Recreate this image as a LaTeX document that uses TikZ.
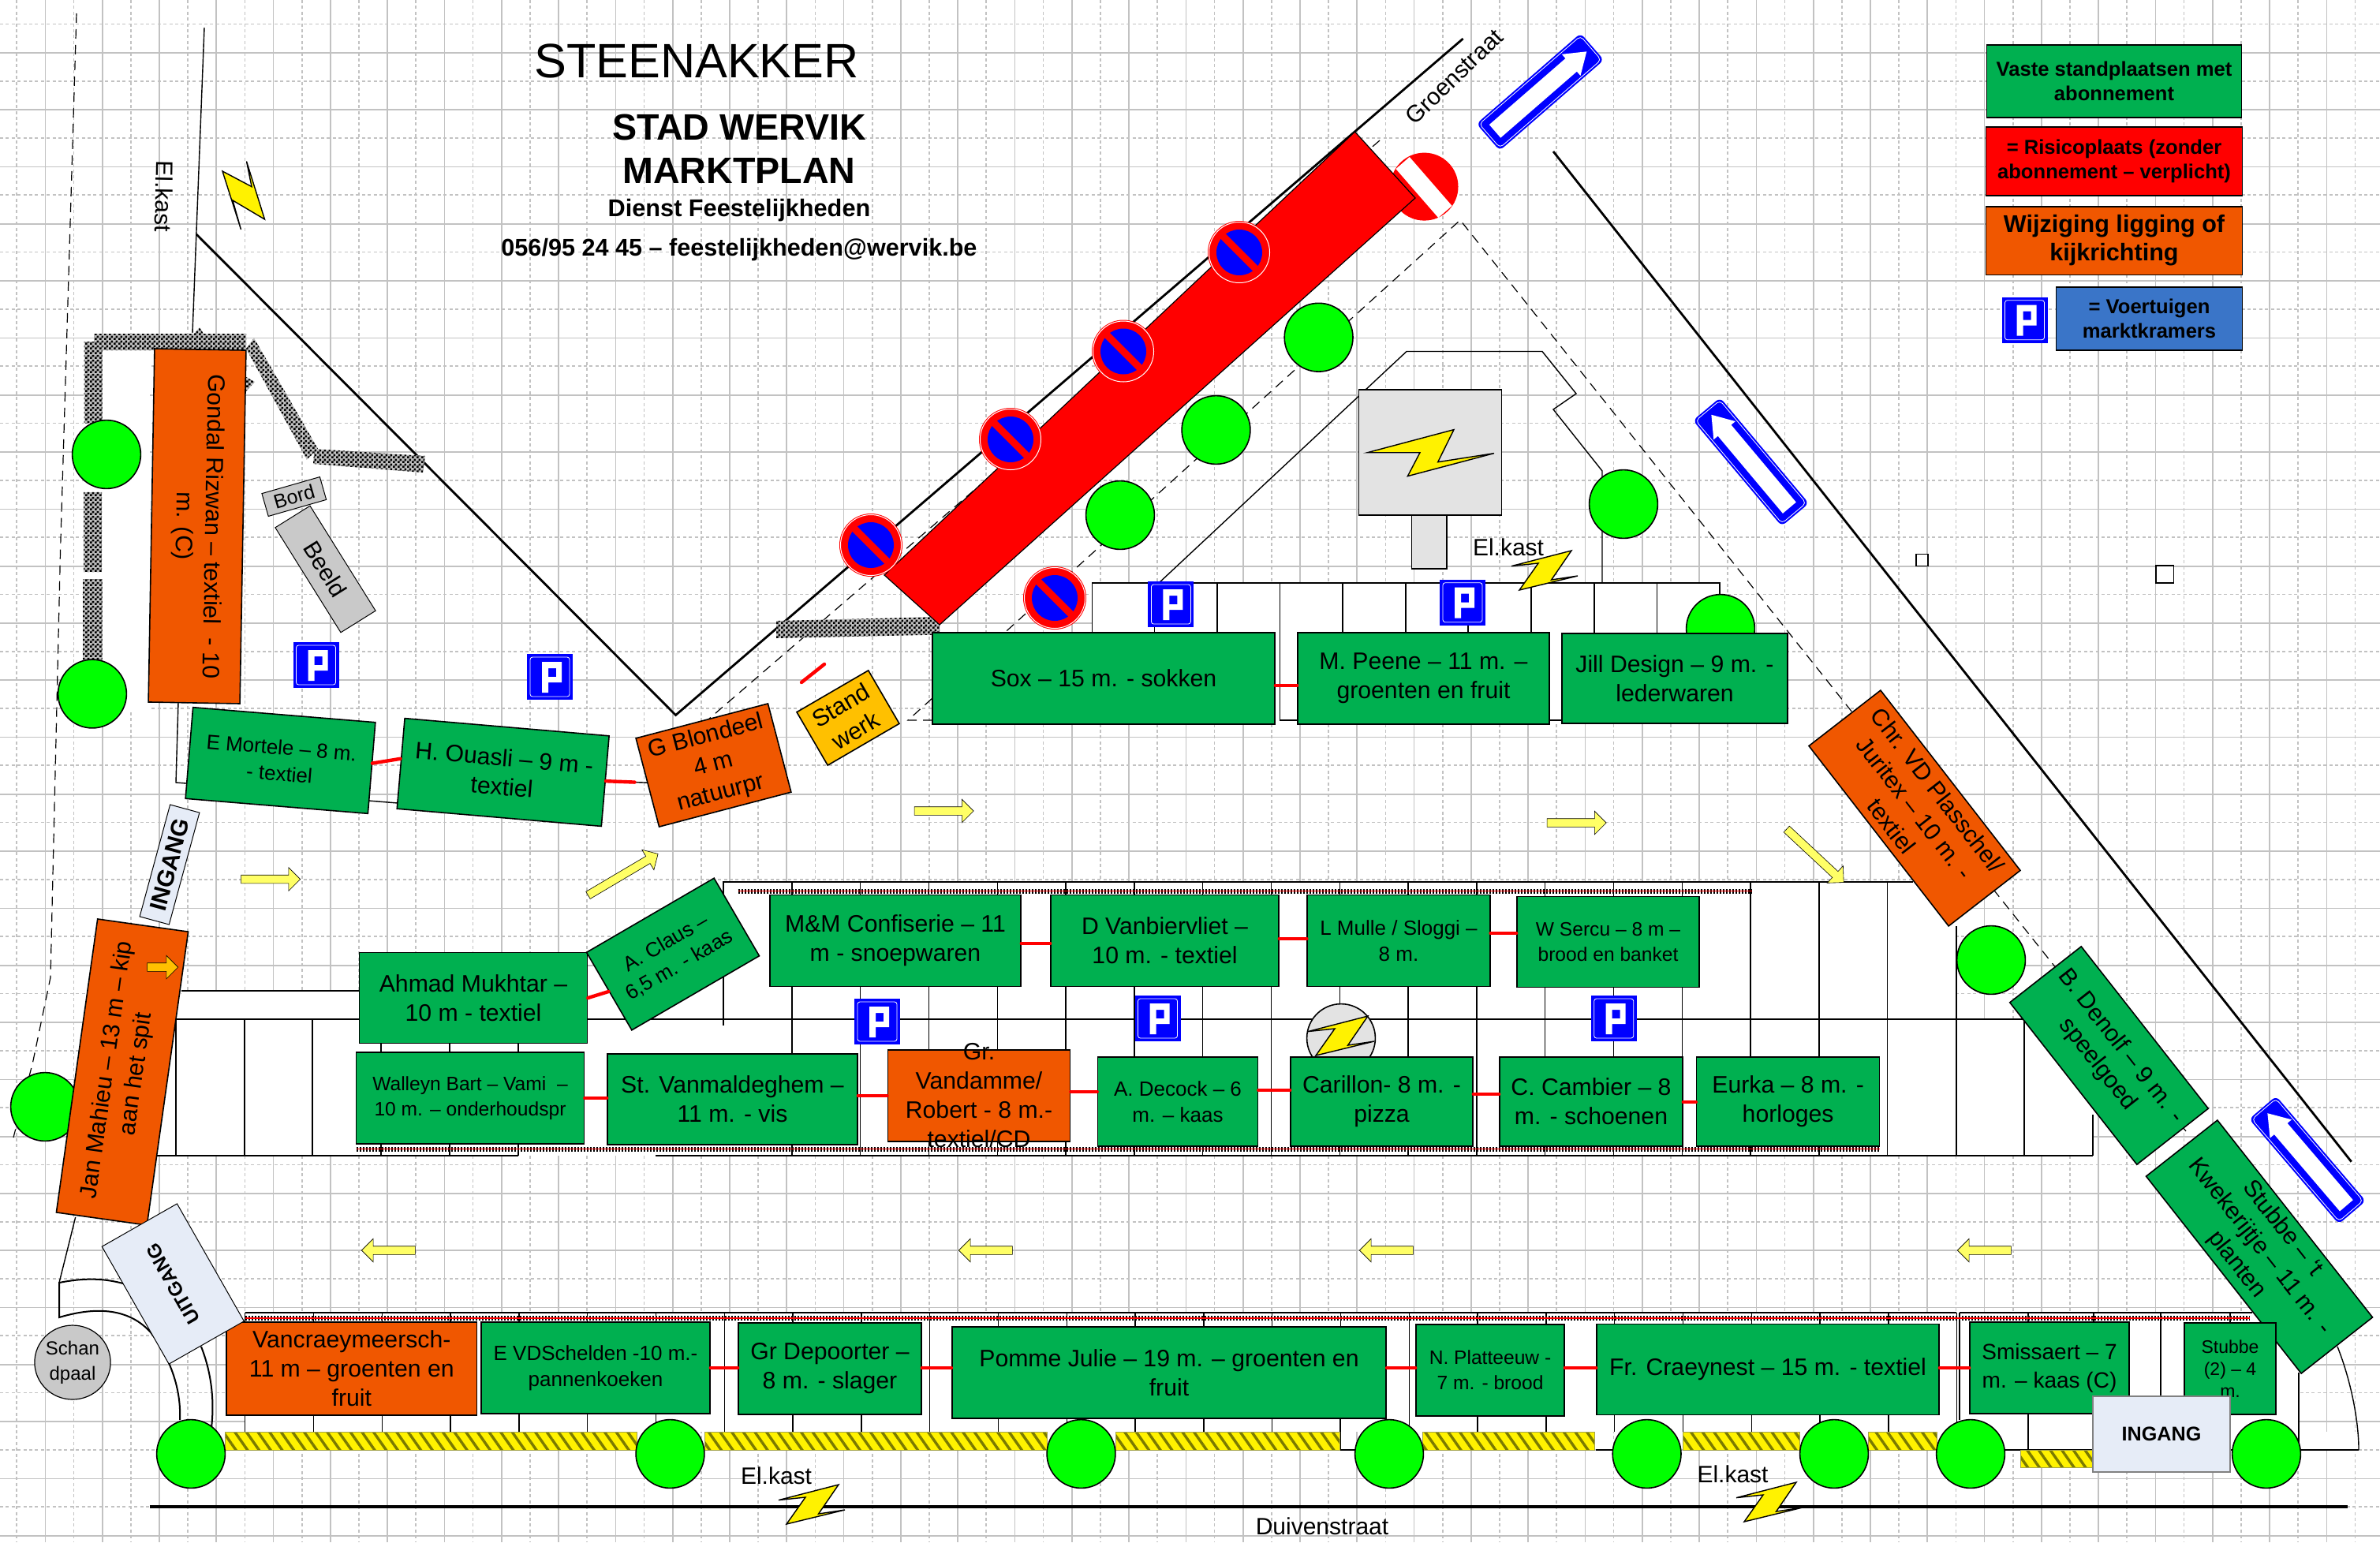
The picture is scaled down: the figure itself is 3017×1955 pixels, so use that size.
\documentclass[tikz,border=0pt]{standalone}
\usepackage{fontspec}
\setmainfont{Liberation Sans}
\usetikzlibrary{shapes,shapes.arrows,patterns,patterns.meta,calc}
\definecolor{marktgroen}{HTML}{00B050}
\definecolor{wijziging}{HTML}{F05700}
\definecolor{boomgroen}{HTML}{00FF00}
\definecolor{rooster}{HTML}{C2C2C2}
\definecolor{pijlgeel}{HTML}{FFFF66}
\definecolor{amber}{HTML}{FFC000}
\definecolor{ingang}{HTML}{E6ECF7}
\definecolor{voertuig}{HTML}{3A75C8}
\definecolor{kastgrijs}{HTML}{E3E3E3}
\definecolor{bordgrijs}{HTML}{C9C9C9}
\definecolor{streep}{HTML}{7A7A00}
\pgfdeclarepatternformonly{fijnruit}{\pgfpointorigin}{\pgfqpoint{3pt}{3pt}}{\pgfqpoint{3pt}{3pt}}{
    \pgfpathrectangle{\pgfpointorigin}{\pgfqpoint{1.5pt}{1.5pt}}
    \pgfpathrectangle{\pgfqpoint{1.5pt}{1.5pt}}{\pgfqpoint{1.5pt}{1.5pt}}
    \pgfusepath{fill}
}
\tikzset{
    psign/.pic={
        \fill[blue] (-29,-29) rectangle (29,29);
        \draw[white, line width=.4pt, rounded corners=1.5pt] (-25,-25) rectangle (25,25);
        \fill[white, even odd rule] (-10,-19) -- (15,-19) -- (15,7) -- (-2,7) -- (-2,20) -- (-10,20) -- cycle (-2,-11) rectangle (8,0);
    },
    verbod/.pic={
        \fill[red] (0,0) circle [radius=40];
        \draw[white, line width=.5pt] (0,0) circle [radius=38.5];
        \fill[blue] (0,0) circle [radius=29];
        \draw[red, line width=4.5pt] (-23,-23) -- (23,23);
    },
    eenrichting/.pic={
        \draw[blue, fill=blue, line width=.5pt, rounded corners=3pt] (-87,-22) rectangle (87,22);
        \draw[white, line width=.4pt, rounded corners=2.5pt] (-85,-20) rectangle (85,20);
        \fill[white] (-76,-11) -- (52,-11) -- (52,-18) -- (78,0) -- (52,18) -- (52,11) -- (-76,11) -- cycle;
    },
    bolt/.pic={
        \draw[fill=yellow, line width=.7pt] (-42,-5.4) -- (34,-25) -- (8.6,12) -- (42,7) -- (-32,25) -- (-8,-9) -- cycle;
    }
}
\begin{document}
\begin{tikzpicture}[x=.5pt, y=-.5pt,
    stall/.style 2 args={draw, fill=marktgroen, line width=.8pt, minimum width=#1*.5pt, minimum height=#2*.5pt, inner sep=0pt, align=center, font=\fontsize{15.1}{18.5}\selectfont},
    oranje/.style 2 args={stall={#1}{#2}, fill=wijziging},
    legende/.style={font=\bfseries\fontsize{12.8}{15.6}\selectfont},
    klein/.style={font=\fontsize{13}{16.5}\selectfont},
    kleiner/.style={font=\fontsize{12.3}{16}\selectfont},
    label/.style={inner sep=0pt, align=center, font=\fontsize{15}{18.5}\selectfont},
    boom/.style={circle, draw, fill=boomgroen, line width=.8pt, minimum size=43.4pt, inner sep=0pt},
    pijl/.style={single arrow, draw, fill=pijlgeel, line width=.3pt, minimum height=#1*.5pt, minimum width=14.5pt, single arrow head extend=4.75pt, inner sep=2.5pt},
    koppel/.style={red, line width=2.2pt, line cap=round},
    muur/.style={preaction={fill=gray!50}, pattern=fijnruit, pattern color=black},
    band/.style={preaction={fill=yellow}, pattern={Lines[angle=-55,distance=6pt,line width=1.7pt]}, pattern color=streep, draw=streep!70, line width=.3pt},
    rij/.style={red, line width=.9pt, preaction={draw=black, line width=3pt, dash pattern=on 1.2pt off .8pt}},
    dun/.style={line width=.7pt},
    dik/.style={line width=1.4pt},
    gestreept/.style={line width=.6pt, dash pattern=on 6pt off 4pt}
]
    \useasboundingbox (0,0) rectangle (3017,1955);
    \fill[white] (0,0) rectangle (3017,1955);
    \foreach \k in {0,...,41} {
        \draw[rooster, line width=.85pt] ({57.4+72.3*\k},0) -- ({57.4+72.3*\k},1955);
        \draw[rooster, line width=.85pt, dash pattern=on 2pt off 1.7pt] ({21.2+72.3*\k},0) -- ({21.2+72.3*\k},1955);
    }
    \foreach \k in {0,...,26} {
        \draw[rooster, line width=.85pt] (0,{67+72.3*\k}) -- (3017,{67+72.3*\k});
        \draw[rooster, line width=.85pt, dash pattern=on 2pt off 1.7pt] (0,{30.4+72.3*\k}) -- (3017,{30.4+72.3*\k});
    }

    % witte vlakken
    \fill[white] (106,440) rectangle (190,900);
    \fill[white] (1384.6,739) rectangle (2180,913);
    \fill[white] (917,1118) rectangle (2480,1465);
    \fill[white] (199,1292) rectangle (2653,1465);
    \fill[white] (230,1256) rectangle (917,1292);
    \fill[white] (310.6,1664) rectangle (2914,1815);
    \fill[white] (2541,1815) rectangle (2990,1838);

    % plaatsen bovenaan
    \draw[dun] (1384.6,802) -- (1384.6,739) -- (2180,739) -- (2180,760);
    \foreach \x in {1463.6,1543,1622.5,1702,1782,1861,1941,2020.8,2100.5} \draw[dun] (\x,739) -- (\x,802);
    \draw[dun] (1622.5,802) -- (1622.5,913) -- (1645,913);
    \draw[dun] (1964,913) -- (1980,913);

    % plaatsen midden
    \draw[dun] (917,1300) -- (917,1118) -- (2425,1118);
    \foreach \k in {1,...,17} \draw[dun] ({917+86.8*\k},1118) -- ({917+86.8*\k},1465);
    \draw[dun] (2480,1174) -- (2480,1465);
    \draw[dun] (2566,1291) -- (2566,1465);
    \draw[dun] (2653,1413) -- (2653,1465);
    \foreach \x in {223,310,396,483,570,657} \draw[dun] (\x,1292) -- (\x,1465);
    \draw[dun] (223,1292) -- (2566,1292);
    \draw[dun] (230,1256) -- (455,1256);
    \draw[line width=.9pt] (199,1465) -- (657,1465) (831,1465) -- (2653,1465);

    % plaatsen onderaan
    \draw[dun] (310.6,1664) -- (2480,1664) (2484,1664) -- (2855,1664);
    \foreach \k in {0,...,25} \draw[dun] ({310.6+86.8*\k},1664) -- ({310.6+86.8*\k},1815);
    \foreach \x in {2571,2654,2739,2827} \draw[dun] (\x,1664) -- (\x,1838);
    \draw[dun] (2484,1664) -- (2484,1800);
    \draw[dun] (2914,1740) -- (2914,1838);
    \draw[dun] (1699,1797) -- (1699,1838) -- (1761,1838);
    \draw[dun] (2023,1838) -- (2087,1838);
    \draw[dun] (2541,1838) -- (2653,1838);
    \draw[dun] (2827,1838) -- (2990,1838);
    \draw[dun] (2963,1707) .. controls (2980,1750) and (2990,1800) .. (2990,1838);

    % straten en lijnen
    \draw[dun] (259,35) -- (244,422);
    \draw[dik] (249,297) -- (856.5,906.5) -- (1854.6,49);
    \draw[dik] (1969,192) -- (2980.7,1472.7);
    \draw[line width=1.7pt] (190,1910) -- (2976,1910);
    \draw[gestreept] (97,17) -- (76.5,700) -- (64,1239) -- (41.5,1347) -- (17,1442);
    \draw[gestreept] (1749,178) -- (899,911);
    \draw[gestreept] (1182,913) -- (1151,913) -- (1851,279) -- (2775,1439);
    \draw[dun] (1469,739) -- (1783,445.5) -- (1955,445.5) -- (1998,499) -- (1969,519) -- (2031,597) -- (2031,739);
    \draw[dun] (226,890) -- (223,992) -- (236,993);
    \draw[dun] (467,1015) -- (504,1018);

    % boordstenen
    \draw[dun] (95.7,1543) -- (75,1626);
    \draw[line width=1pt] (156,1627) .. controls (130,1620) and (105,1620) .. (75,1626) -- (75,1670) .. controls (125,1655) and (165,1660) .. (191,1689) .. controls (215,1720) and (230,1760) .. (228,1800);
    \draw[line width=1pt] (255,1707) .. controls (268,1740) and (272,1775) .. (268,1810);

    % muren
    \fill[muur] (119,423) -- (246,423) -- (253,415) -- (258,423) -- (312,423) -- (312,444) -- (119,444) -- cycle;
    \fill[muur] (106.5,433) rectangle (129.5,536);
    \fill[muur] (106,623.6) rectangle (129,725);
    \fill[muur] (105,734) rectangle (129.5,836);
    \fill[muur] (312,442) -- (322,428.6) -- (403,569) -- (389,582.6) -- cycle;
    \fill[muur] (312,478) -- (323,484) -- (312,496) -- cycle;
    \fill[muur] (398.6,569) -- (539,578) -- (536,599) -- (397,588) -- cycle;
    \fill[muur] (984,787) -- (1191,782) -- (1191,804.5) -- (984,809) -- cycle;

    % gele stroken
    \path[band] (285,1815) rectangle (807,1838);
    \path[band] (893,1815) rectangle (1327,1838);
    \path[band] (1414,1815) rectangle (1698,1838);
    \path[band] (1803.6,1815) rectangle (2021.4,1838);
    \path[band] (2133,1815) rectangle (2281.5,1838);
    \path[band] (2368.4,1815) rectangle (2455,1838);
    \path[band] (2561,1838) rectangle (2653,1860);

    % bomen
    \foreach \x/\y [count=\i] in {135/576, 117/879.5, 57/1403, 242/1843, 849.5/1843, 1370.5/1843, 1761/1843, 2087.6/1843, 2325/1843, 2498/1843, 2873/1843, 1671.6/427.7, 1541.5/545, 1420/653, 2058/639, 2181/797, 2524/1217}
        \node[boom] (boom\i) at (\x,\y) {};

    % rode strook en borden
    \fill[red] (1805.5,236.6) circle [radius=43];
    \fill[white, rotate around={-49:(1805,237.5)}] (1764,226) rectangle (1846,249);
    \draw[fill=red, line width=.6pt] (1717.5,167) -- (1794,251) -- (1191,792) -- (1121,729) -- cycle;
    \foreach \x/\y in {1571/320, 1424/445.5, 1281/557, 1104/691, 1337/758}
        \pic at (\x,\y) {verbod};
    \pic[rotate=41] at (1952.4,116.5) {eenrichting};
    \pic[rotate=130] at (2219.5,585.5) {eenrichting};
    \pic[rotate=130.5] at (2925,1470.5) {eenrichting};

    % elektriciteitskast
    \draw[fill=kastgrijs, line width=.8pt] (1789.5,653) rectangle (1834,720.7);
    \node[draw, fill=kastgrijs, line width=.8pt, minimum width=90.5pt, minimum height=79.5pt] (kast) at (1813,573.5) {};
    \draw[fill=yellow, line width=.7pt] (1733.4,573.7) -- (1843,544.6) -- (1822.7,585.7) -- (1894,574.6) -- (1784.4,603.6) -- (1800,573.7) -- cycle;
    \node[draw, ellipse, fill=kastgrijs, line width=.8pt, minimum width=43.4pt, minimum height=43.4pt, inner sep=0pt] (ovaal) at (1700,1316) {};
    \pic at (1700,1313) {bolt};
    \draw[fill=yellow, line width=.7pt] (312.5,204.5) -- (335.5,278) -- (295,254) -- (305.5,291) -- (282,217) -- (319,236.6) -- cycle;
    \pic at (1958,723) {bolt};
    \pic at (1029,1907) {bolt};
    \pic at (2243,1904) {bolt};

    \draw[dun, fill=white] (2429,702.5) rectangle (2444,717.4);
    \draw[dun, fill=white] (2733,717) rectangle (2755.6,739);

    % parking
    \foreach \x/\y in {400.5/843, 697/858, 1484.4/766, 1854/763.7, 1112/1295, 1467.5/1291, 2045.7/1291}
        \pic at (\x,\y) {psign};

    % rode en zwarte rijen
    \draw[rij] (935.6,1129.5) -- (2220.5,1129.5);
    \draw[rij] (451.5,1456.5) -- (2382.7,1456.5);
    \draw[rij] (310.6,1671) -- (2851.6,1671);

    % standplaatsen
    \node[oranje={448}{116}, rotate=-91] (gondal) at (250,667) {Gondal Rizwan – textiel \ - 10\\m. (C)};
    \node[stall={232}{116}, rotate=-4.7, klein] (mortele) at (355.5,964) {E Mortele – 8 m.\\- textiel};
    \node[stall={260}{115}, rotate=-4.9] (ouasli) at (637.7,979) {H. Ouasli – 9 m -\\textiel};
    \node[oranje={173}{116}, rotate=14.7] (blondeel) at (904.5,970) {G Blondeel\\4 m\\natuurpr};
    \node[stall={105}{78}, fill=amber, rotate=30.2] (standwerk) at (1075,910) {Stand\\werk};
    \node[stall={434}{116}] (sox) at (1399,860) {Sox – 15 m. - sokken};
    \node[stall={319}{116}] (peene) at (1804.5,860) {M. Peene – 11 m. –\\groenten en fruit};
    \node[stall={286}{114}] (jill) at (2123,860) {Jill Design – 9 m. -\\lederwaren};
    \node[oranje={289}{115}, rotate=-52.2] (plasschel) at (2427,1024.5) {Chr. VD Plasschel/\\Juritex – 10 m. -\\textiel};
    \node[stall={261}{115}, rotate=-51.9] (denolf) at (2673.5,1338) {B. Denolf – 9 m. -\\speelgoed};
    \node[stall={318}{115}, rotate=-51.8] (kwekerij) at (2864,1580.5) {Stubbe – ‘t\\Kwekerijtje – 11 m. -\\planten};

    \node[stall={289}{115}] (ahmad) at (600,1265) {Ahmad Mukhtar –\\10 m - textiel};
    \node[stall={187}{114}, rotate=30.2, klein] (claus) at (853,1209.5) {A. Claus –\\6,5 m. - kaas};
    \node[stall={318}{116}] (confiserie) at (1135,1192.5) {M\&M Confiserie – 11\\m - snoepwaren};
    \node[stall={289}{116}] (vanbiervliet) at (1476.5,1192.5) {D Vanbiervliet –\\10 m. - textiel};
    \node[stall={231.5}{116}, klein] (mulle) at (1773,1192.5) {L Mulle / Sloggi –\\8 m.};
    \node[stall={231}{115}, kleiner] (sercu) at (2038.5,1194) {W Sercu – 8 m –\\brood en banket};

    \node[stall={289}{116}, kleiner] (walleyn) at (596,1392) {Walleyn Bart – Vami \ –\\10 m. – onderhoudspr};
    \node[stall={317}{115}] (vanmaldeghem) at (928.5,1393.5) {St. Vanmaldeghem –\\11 m. - vis};
    \node[oranje={231}{116}] (vandamme) at (1241,1389) {};
    \node[label, font=\fontsize{15.1}{18.5}\selectfont] (vandammetekst) at (vandamme) {Gr.\\Vandamme/\\Robert - 8 m.-\\textiel/CD};
    \node[stall={203}{113}, klein] (decock) at (1493,1396.5) {A. Decock – 6\\m. – kaas};
    \node[stall={231}{113}] (carillon) at (1751.5,1396.5) {Carillon- 8 m. -\\pizza};
    \node[stall={232}{113}] (cambier) at (2017,1396.5) {C. Cambier – 8\\m. - schoenen};
    \node[stall={232}{113}] (eurka) at (2266.6,1396.5) {Eurka – 8 m. -\\horloges};

    \node[oranje={317.6}{118}] (vancraey) at (445.8,1735) {Vancraeymeersch-\\11 m – groenten en\\fruit};
    \node[stall={290}{116}, klein] (schelden) at (755,1734) {E VDSchelden -10 m.-\\pannenkoeken};
    \node[stall={232}{116}] (depoorter) at (1052,1735) {Gr Depoorter –\\8 m. - slager};
    \node[stall={550.4}{115.5}] (pomme) at (1482,1740) {Pomme Julie – 19 m. – groenten en\\fruit};
    \node[stall={188}{116}, kleiner] (platteeuw) at (1889,1737) {N. Platteeuw -\\7 m. - brood};
    \node[stall={434}{115}] (craeynest) at (2241,1736) {Fr. Craeynest – 15 m. - textiel};
    \node[stall={202}{116}, font=\fontsize{14}{18}\selectfont] (smissaert) at (2598,1734) {Smissaert – 7\\m. – kaas (C)};
    \node[stall={116}{116}, font=\fontsize{11.5}{14}\selectfont] (stubbe) at (2827,1735) {Stubbe\\(2) – 4\\m.};

    \node[oranje={375.6}{116}, rotate=82] (mahieu) at (155,1359) {Jan Mahieu – 13 m – kip\\aan het spit};

    % koppelingen
    \foreach \a/\b/\y in {sox/peene/869, confiserie/vanbiervliet/1196, vanbiervliet/mulle/1190, mulle/sercu/1183, walleyn/vanmaldeghem/1392, vanmaldeghem/vandamme/1389, vandamme/decock/1384, decock/carillon/1382, carillon/cambier/1387, cambier/eurka/1397, schelden/depoorter/1734, depoorter/pomme/1734, pomme/platteeuw/1734, platteeuw/craeynest/1734, craeynest/smissaert/1734}
        \draw[koppel] (\a.east |- 0,\y) -- (\b.west |- 0,\y);
    \draw[koppel] ([yshift=3pt]mortele.east) -- ([yshift=3pt]ouasli.west);
    \draw[koppel] (ahmad.east) -- (claus.west);
    \draw[dun] (ouasli.east) -- (blondeel.west);
    \draw[koppel] (ouasli.east) -- ($(ouasli.east)!.7!(blondeel.west)$);
    \coordinate (streepa) at (1016,865);
    \coordinate (streepb) at (1045,842);
    \draw[koppel] (streepa) -- (streepb);

    % ingangen en borden
    \node[draw, fill=ingang, line width=.5pt, minimum width=73.5pt, minimum height=19.3pt, inner sep=0pt, rotate=74.8, font=\bfseries\fontsize{15}{18}\selectfont] (ingangb) at (215,1096) {INGANG};
    \node[draw, fill=ingang, line width=.5pt, minimum width=85.7pt, minimum height=54.8pt, inner sep=0pt, rotate=119.7, font=\bfseries\fontsize{12.2}{15}\selectfont] (uitgang) at (219.3,1627.5) {UITGANG};
    \node[draw=gray, fill=ingang, line width=.6pt, minimum width=87pt, minimum height=48pt, inner sep=0pt, font=\bfseries\fontsize{12.6}{15}\selectfont] (ingangc) at (2740,1818) {INGANG};
    \node[draw, ellipse, fill=bordgrijs, line width=.6pt, minimum width=47pt, minimum height=47pt, inner sep=0pt, align=center, font=\fontsize{12}{16}\selectfont] (schandpaal) at (92,1727) {Schan\\dpaal};
    \node[draw, fill=bordgrijs, line width=.5pt, minimum width=38.2pt, minimum height=15pt, inner sep=0pt, rotate=16, font=\fontsize{12.5}{15}\selectfont] (bord) at (372.8,629.5) {Bord};
    \node[draw, fill=bordgrijs, line width=.5pt, minimum width=78.4pt, minimum height=26pt, inner sep=0pt, rotate=-58, font=\fontsize{15}{18}\selectfont] (beeld) at (412.5,721.5) {Beeld};

    % rijrichting
    \node[pijl=75] (pijla) at (340.5,1114.5) {};
    \node[pijl=75] (pijlb) at (1194,1028) {};
    \node[pijl=75] (pijlc) at (1996,1043) {};
    \node[pijl=103, rotate=30.6] (pijld) at (787.5,1110) {};
    \node[pijl=99, rotate=-43] (pijle) at (2299,1083) {};
    \foreach \x [count=\i] in {495,1252,1760,2518}
        \node[pijl=68, rotate=180] (terug\i) at (\x,1585) {};
    \node[pijl=39, fill=amber] (pijlf) at (203.5,1226) {};

    % titel
    \node[label, font=\fontsize{30.6}{36}\selectfont] (titel) at (883,77) {STEENAKKER};
    \node[label, font=\bfseries\fontsize{23.3}{28}\selectfont] (stad) at (937,161) {STAD WERVIK};
    \node[label, font=\bfseries\fontsize{23.3}{28}\selectfont] (plan) at (937,216) {MARKTPLAN};
    \node[label, font=\bfseries\fontsize{15.35}{18}\selectfont] (dienst) at (937,267) {Dienst Feestelijkheden};
    \node[label, font=\bfseries\fontsize{15.3}{18}\selectfont] (contact) at (937,317) {056/95 24 45 – feestelijkheden@wervik.be};

    % straatnamen
    \node[label] (duiven) at (1676,1934.5) {Duivenstraat};
    \node[label, rotate=44] (groen) at (1843,97) {Groenstraat};
    \node[label, rotate=-91] (kasta) at (208,249) {El.kast};
    \node[label] (kastb) at (1912,694) {El.kast};
    \node[label] (kastc) at (984,1871) {El.kast};
    \node[label] (kastd) at (2196.5,1869) {El.kast};

    % legende
    \node[stall={323}{92}, legende] (legenda) at (2680,103) {Vaste standplaatsen met\\abonnement};
    \node[stall={325}{87}, fill=red, legende] (legendb) at (2680,204.7) {= Risicoplaats (zonder\\abonnement – verplicht)};
    \node[oranje={325}{86.6}, font=\bfseries\fontsize{15.3}{18}\selectfont] (legendc) at (2680,305) {Wijziging ligging of\\kijkrichting};
    \pic at (2566.5,405.7) {psign};
    \node[stall={236}{80}, fill=voertuig, legende] (legendd) at (2724.5,404) {= Voertuigen\\marktkramers};
\end{tikzpicture}
\end{document}
